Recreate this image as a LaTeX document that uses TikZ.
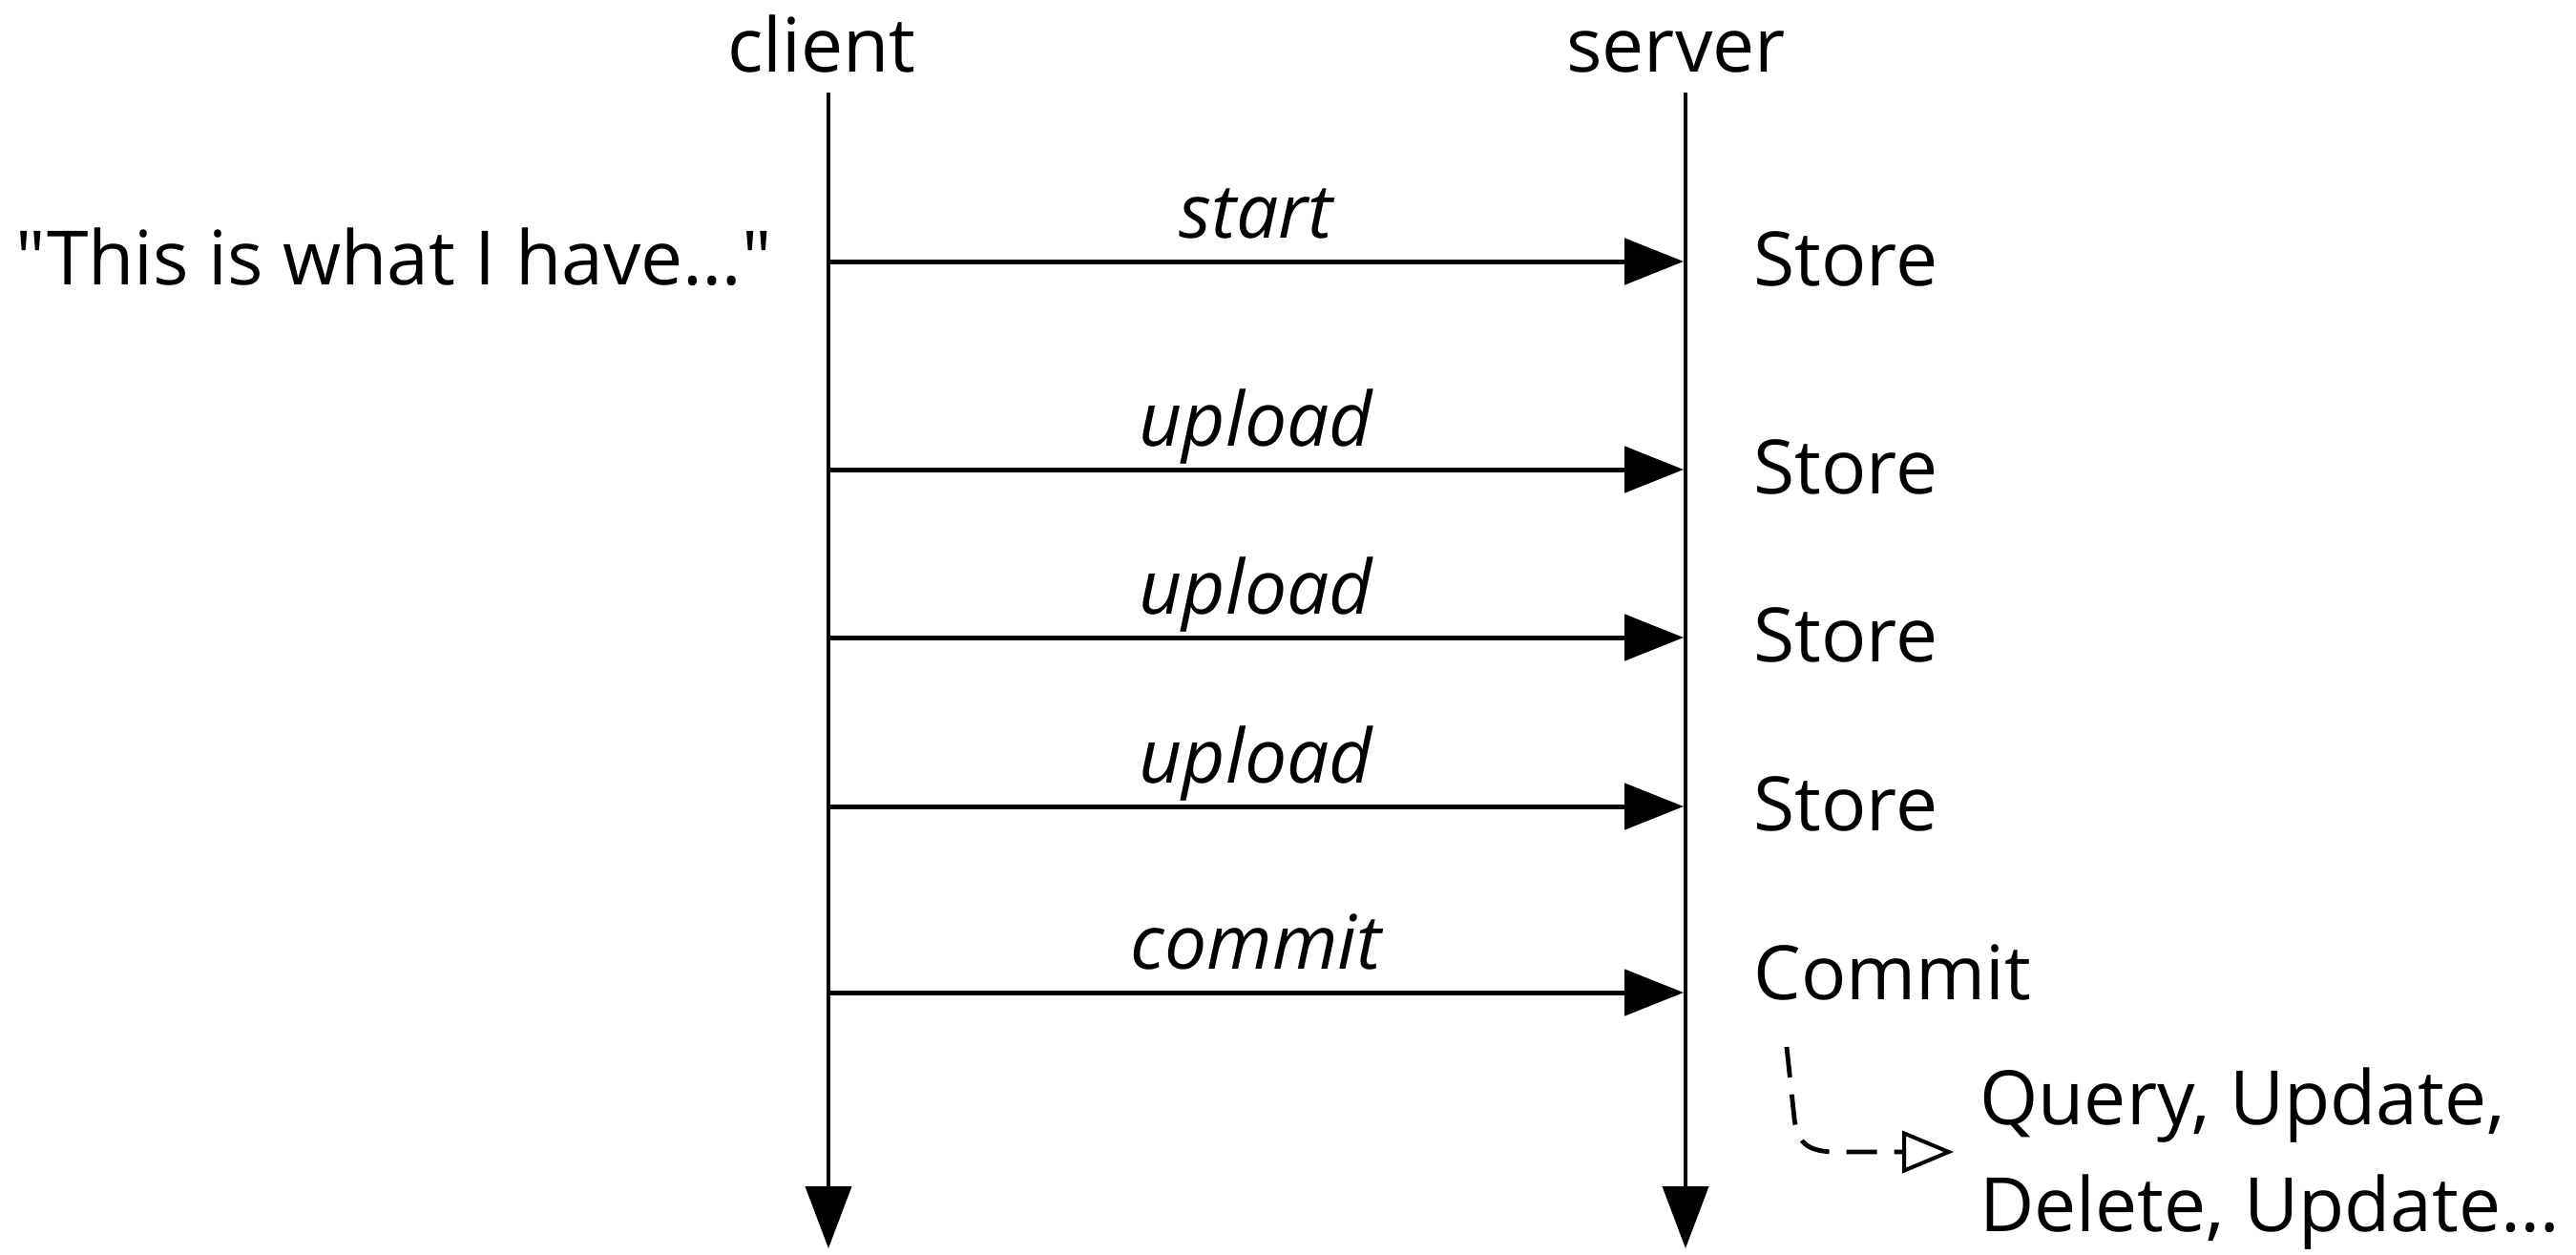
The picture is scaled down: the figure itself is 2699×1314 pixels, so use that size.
\documentclass[tikz,border=0pt]{standalone}
\usepackage{fontspec}
\setmainfont{Open Sans}[Ligatures=TeXOff]
\usetikzlibrary{arrows.meta}

\begin{document}
\begin{tikzpicture}[x=0.5pt, y=-0.5pt,
  txt/.style={inner sep=0pt, font=\fontsize{39.3}{56}\selectfont},
  msglabel/.style={txt, font=\fontsize{39.3}{56}\selectfont\itshape, anchor=base},
  lifeline/.style={line width=2pt, -{Triangle[length=32.5pt, width=24pt]}},
  message/.style={line width=2.5pt, -{Triangle[length=31pt, width=24pt]}},
  followup/.style={line width=2.4pt, dash pattern=on 16pt off 9pt,
    -{Triangle[open, length=27pt, width=22pt, line width=2pt]}}]
\useasboundingbox (0,0) rectangle (2699,1314);

% participants
\node[txt, anchor=base] (client) at (861,75) {client};
\node[txt, anchor=base] (server) at (1756,75) {server};

% lifelines
\coordinate (ctop) at (868,97);
\coordinate (cbot) at (868,1308);
\coordinate (stop) at (1766,97);
\coordinate (sbot) at (1766,1308);
\draw[lifeline] (ctop) -- (cbot);
\draw[lifeline] (stop) -- (sbot);

% messages
\foreach \name/\yy/\lab in {m1/274/start, m2/492/upload, m3/668/upload, m4/845/upload, m5/1040/commit}{
  \coordinate (\name c) at (868,\yy);
  \coordinate (\name s) at (1764,\yy);
  \draw[message] (\name c) -- node[msglabel, midway, yshift=12.5pt] {\lab} (\name s);
}

% client note
\node[txt, anchor=base east] (note) at (809,298) {"This is what I have…"};

% server actions
\node[txt, anchor=base west] (st1) at (1837,299) {Store};
\node[txt, anchor=base west] (st2) at (1837,517) {Store};
\node[txt, anchor=base west] (st3) at (1837,693) {Store};
\node[txt, anchor=base west] (st4) at (1837,870) {Store};
\node[txt, anchor=base west] (cm) at (1837,1047) {Commit};

% follow-up operations (base anchor sits on the last line)
\node[txt, anchor=base west, align=left] (ops) at (2074,1290) {Query, Update,\\Delete, Update…};
\coordinate (d0) at (1872,1097);
\coordinate (d1) at (2047,1207);
\draw[followup] (d0) -- (1880,1172) .. controls (1883,1200) and (1897,1207) .. (1925,1207) -- (d1);
\end{tikzpicture}
\end{document}
